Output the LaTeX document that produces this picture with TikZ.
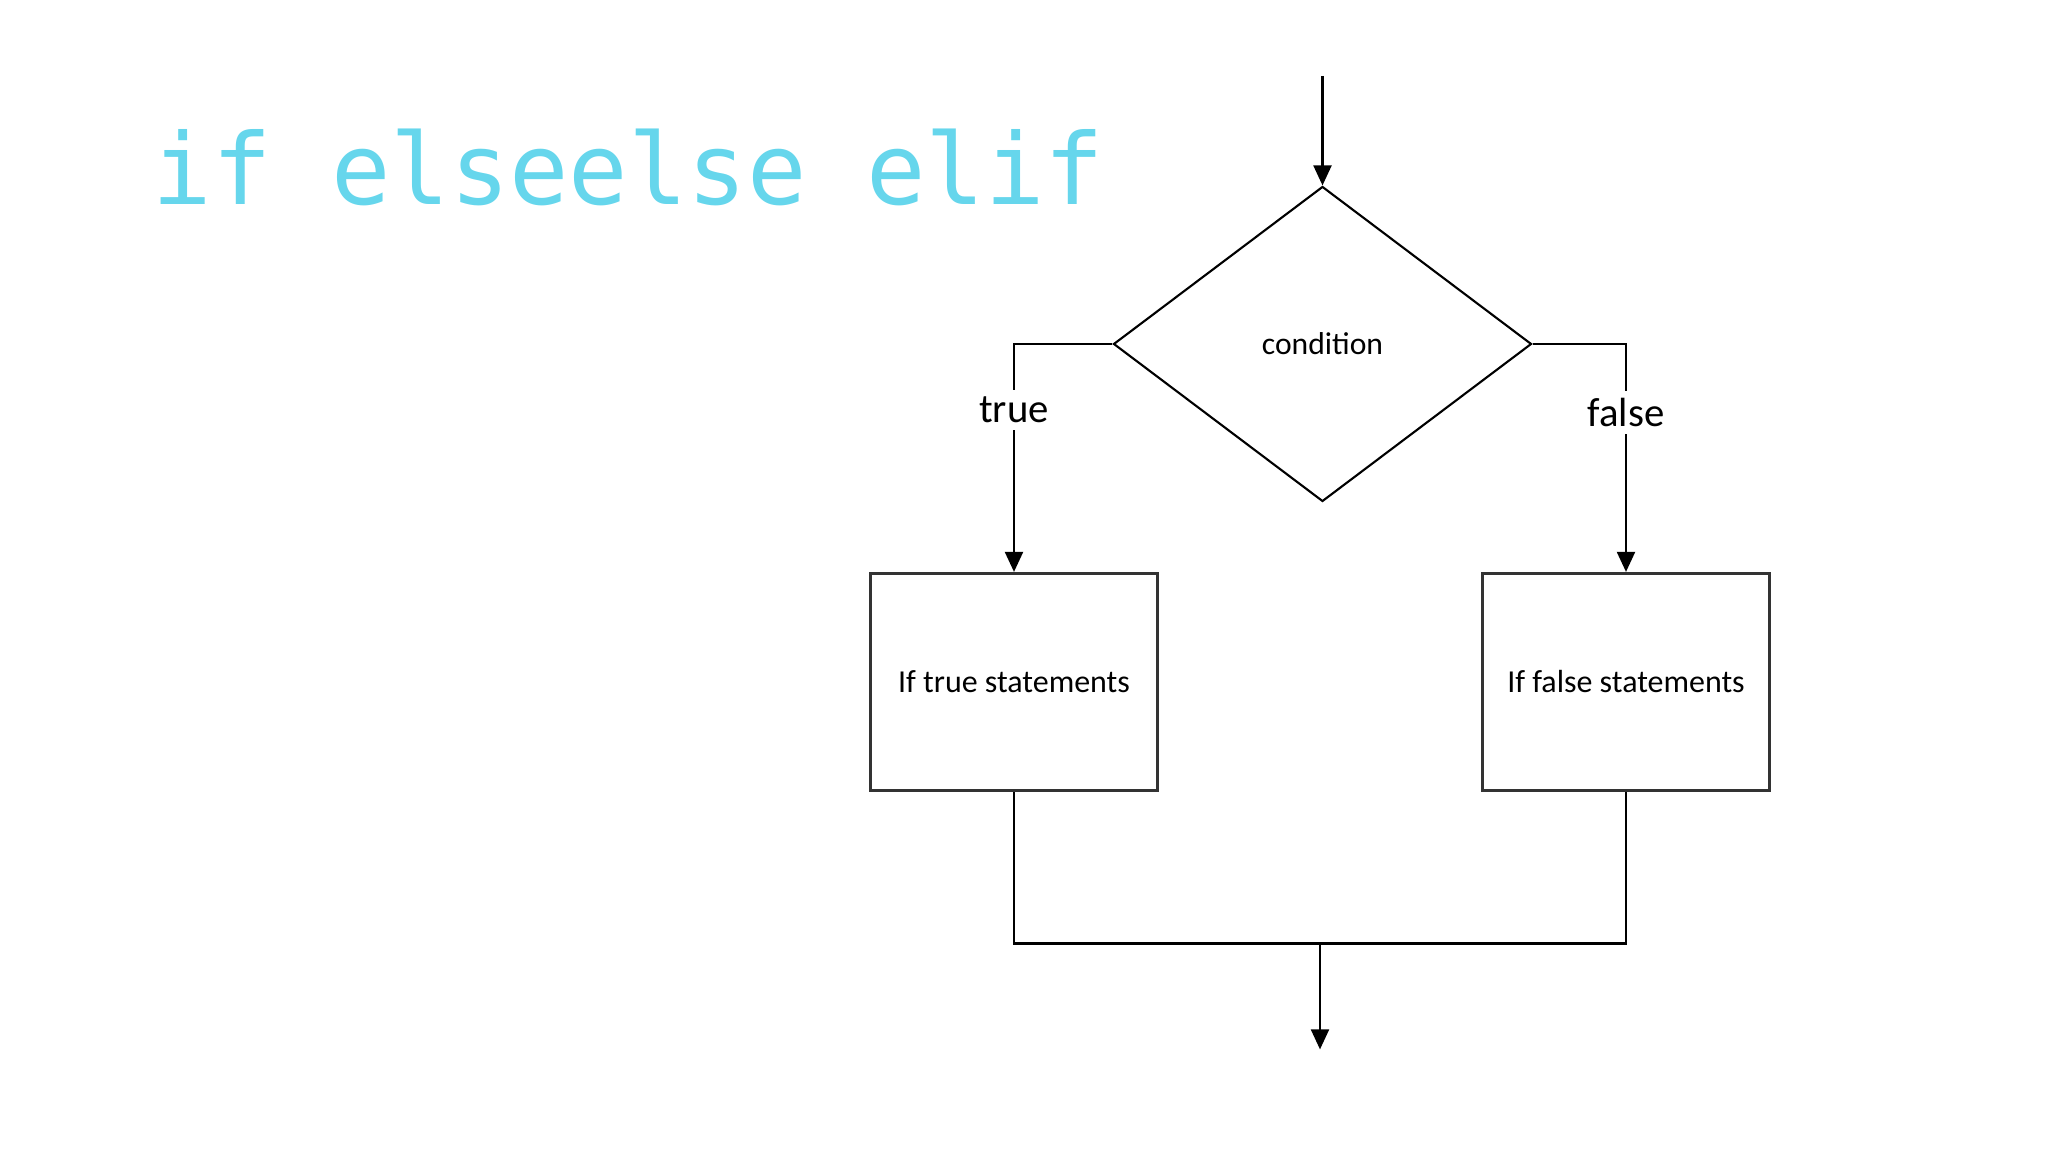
\documentclass[tikz,border=0pt]{standalone}
\usepackage{fontspec}
\setmainfont{Carlito}
\newfontfamily\codefont{DejaVu Sans Mono}
\usetikzlibrary{shapes.geometric,arrows.meta}
\definecolor{titlecyan}{RGB}{102,214,236}
\begin{document}
\begin{tikzpicture}[>={Triangle[length=0.2cm,width=0.18cm]}, line width=0.6pt,
	decision/.style={diamond, draw, minimum width=4.18cm, minimum height=3.15cm, inner sep=0pt, font=\fontsize{9}{10}\selectfont},
	block/.style={rectangle, draw=black!80, line width=0.9pt, minimum width=2.875cm, minimum height=2.17cm, font=\fontsize{9.1}{10}\selectfont},
	branch/.style={fill=white, inner sep=2pt, font=\fontsize{11.6}{12}\selectfont}]
				\useasboundingbox (0,0) rectangle (20.48,11.52);

				\node[anchor=base west, text=titlecyan, font=\codefont\fontsize{28.1}{30}\selectfont] (title) at (1.40,9.47) {if elseelse elif};

				\coordinate (start) at (13.225,10.76);
				\node[decision] (cond) at (13.225,8.08) {condition};
				\node[block] (tbox) at (10.14,4.70) {If true statements};
				\node[block] (fbox) at (16.26,4.70) {If false statements};
				\coordinate (merge) at (13.20,2.085);
				\coordinate (stop) at (13.20,1.026);

				\draw[->] (start) -- (cond.north);
				\draw[->] (cond.west) -| node[branch, pos=0.645]{true} (tbox.north);
				\draw[->] (cond.east) -| node[branch, pos=0.65]{false} (fbox.north);
				\draw (tbox.south) |- (merge) -| (fbox.south);
				\draw[->] (merge) -- (stop);
			\end{tikzpicture}
\end{document}
